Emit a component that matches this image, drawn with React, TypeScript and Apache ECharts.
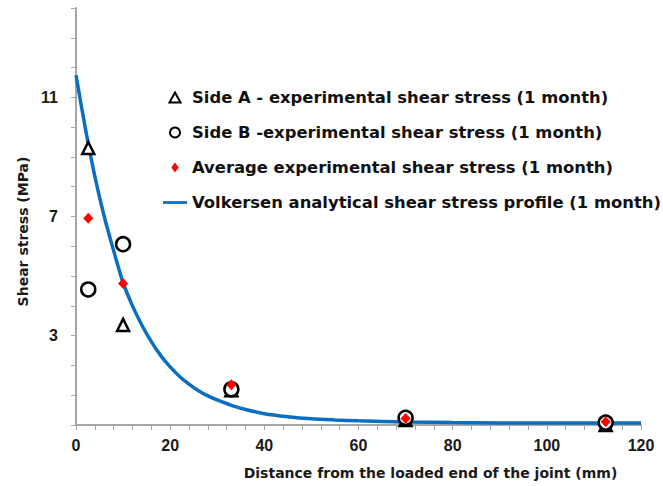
import React, { useEffect, useRef } from "react";
import * as echarts from "echarts";

// Side A – experimental shear stress (triangles)
const sideAX = [2.6, 10, 33, 70, 112.5];
const sideAY = [9.3, 3.36, 1.17, 0.17, 0.0];
// Side B – experimental shear stress (circles)
const sideBX = [2.6, 10, 33, 70, 112.5];
const sideBY = [4.55, 6.07, 1.2, 0.24, 0.08];
// Average experimental shear stress (diamonds)
const avgX = [2.6, 10, 33, 70, 112.5];
const avgY = [6.94, 4.75, 1.35, 0.22, 0.11];
// Volkersen analytical profile
const curveX = [0, 2, 4, 6, 8, 10, 12, 14, 16, 18, 20, 22, 24, 26, 28, 30, 33, 36, 40, 45, 50, 55, 60, 70, 80, 90, 100, 110, 120];
const curveY = [11.74, 9.95, 8.35, 7.0, 5.85, 4.78, 4.0, 3.35, 2.8, 2.33, 1.95, 1.63, 1.37, 1.15, 0.98, 0.84, 0.66, 0.52, 0.38, 0.28, 0.21, 0.17, 0.14, 0.1, 0.08, 0.07, 0.07, 0.07, 0.07];

const yLabels = [3, 7, 11];
const xLabelStep = 20;

const names = [
  "Side A - experimental shear stress (1 month)",
  "Side B -experimental shear stress (1 month)",
  "Average experimental shear stress (1 month)",
  "Volkersen analytical shear stress profile (1 month)",
];

const zip = (xs: number[], ys: number[]) => xs.map((x, i) => [x, ys[i]]);

export default function App() {
  const ref = useRef<HTMLDivElement>(null);
  useEffect(() => {
    document.body.style.margin = "0";
    if (!ref.current) return;
    const chart = echarts.init(ref.current, null, { renderer: "svg" });
    const axisGray = "#a6a6a6";
    const labelColor = "#1a1a1a";
    const font = "Liberation Sans, Arial, sans-serif";
    const wide = "DejaVu Sans, sans-serif";
    const hollow = { color: "#ffffff", borderColor: "#000000", borderWidth: 2 };
    chart.setOption({
      animation: false,
      backgroundColor: "#ffffff",
      grid: { left: 76, right: 22, top: 8, bottom: 61, containLabel: false },
      legend: {
        orient: "vertical",
        left: 158,
        top: 83,
        itemWidth: 24,
        itemHeight: 10,
        itemGap: 16,
        symbolKeepAspect: true,
        data: [
          { name: names[0], icon: "path://M5,0 L10,9 L0,9 Z", itemStyle: hollow },
          { name: names[1], icon: "path://M5,0 A5,5 0 1,1 4.99,0 Z", itemStyle: hollow },
          { name: names[2], icon: "path://M5,0 L9,5.5 L5,11 L1,5.5 Z", itemStyle: { color: "#ff0000" } },
          { name: names[3], icon: "path://M0,0 H26 V3 H0 Z", itemStyle: { color: "#0a6fc2" } },
        ],
        textStyle: {
          fontFamily: wide,
          fontWeight: "bold",
          fontSize: 16.4,
          color: "#111",
          lineHeight: 19,
        },
      },
      xAxis: {
        type: "value",
        min: 0,
        max: 120,
        interval: 4,
        name: "Distance from the loaded end of the joint (mm)",
        nameLocation: "middle",
        nameGap: 41,
        nameTextStyle: {
          fontFamily: wide,
          fontWeight: "bold",
          fontSize: 14,
          color: labelColor,
          padding: [0, 0, 0, 144],
        },
        axisLine: { show: true, lineStyle: { color: axisGray, width: 2 } },
        axisTick: { show: true, length: 5, lineStyle: { color: axisGray, width: 1 } },
        axisLabel: {
          margin: 12,
          fontFamily: font,
          fontWeight: "bold",
          fontSize: 16,
          color: labelColor,
          formatter: (v: number) => (v % xLabelStep === 0 ? String(v) : ""),
        },
        splitLine: { show: false },
      },
      yAxis: {
        type: "value",
        min: 0,
        max: 14,
        interval: 1,
        name: "Shear stress (MPa)",
        nameLocation: "middle",
        nameGap: 46,
        nameTextStyle: {
          fontFamily: wide,
          fontWeight: "bold",
          fontSize: 14,
          color: labelColor,
          padding: [0, 30, 0, 0],
        },
        axisLine: { show: true, lineStyle: { color: axisGray, width: 2 } },
        axisTick: { show: true, length: 5, lineStyle: { color: axisGray, width: 1 } },
        axisLabel: {
          margin: 18,
          fontFamily: font,
          fontWeight: "bold",
          fontSize: 16,
          color: labelColor,
          formatter: (v: number) => (yLabels.indexOf(v) >= 0 ? String(v) : ""),
        },
        splitLine: { show: false },
      },
      series: [
        {
          name: names[3],
          type: "line",
          data: zip(curveX, curveY),
          smooth: 0.3,
          symbol: "none",
          showSymbol: false,
          lineStyle: { color: "#0a6fc2", width: 3.5 },
          itemStyle: { color: "#0a6fc2" },
          z: 1,
        },
        {
          name: names[0],
          type: "scatter",
          data: zip(sideAX, sideAY),
          symbol: "triangle",
          symbolSize: 12,
          clip: false,
          itemStyle: { color: "#ffffff", borderColor: "#000000", borderWidth: 2.5, opacity: 1 },
          z: 2,
        },
        {
          name: names[1],
          type: "scatter",
          data: zip(sideBX, sideBY),
          symbol: "circle",
          symbolSize: 14,
          clip: false,
          itemStyle: { color: "#ffffff", borderColor: "#000000", borderWidth: 2.5, opacity: 1 },
          z: 3,
        },
        {
          name: names[2],
          type: "scatter",
          data: zip(avgX, avgY),
          symbol: "diamond",
          symbolSize: [10, 11],
          clip: false,
          itemStyle: { color: "#ff0000", opacity: 1 },
          z: 4,
        },
      ],
    });
    return () => chart.dispose();
  }, []);
  return <div ref={ref} style={{ width: 663, height: 486 }} />;
}
